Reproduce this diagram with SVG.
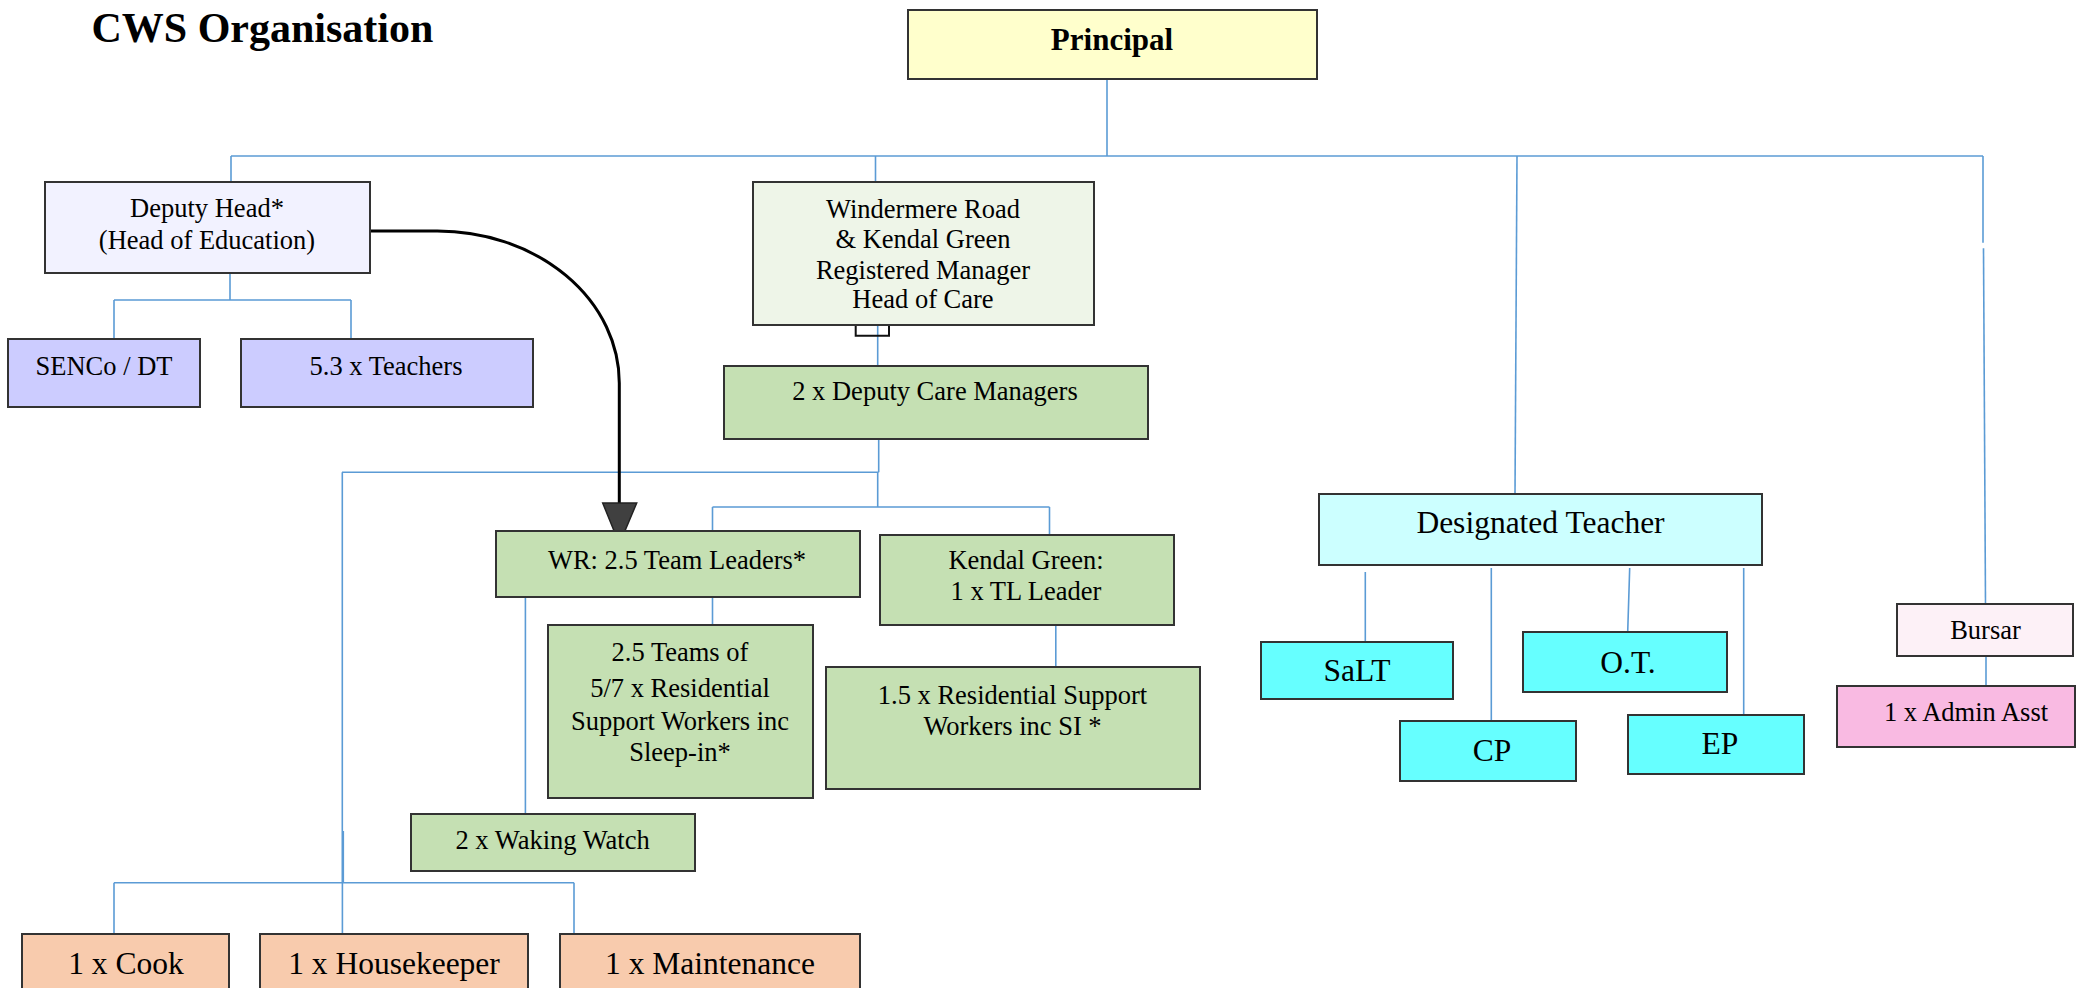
<svg xmlns="http://www.w3.org/2000/svg" width="2078" height="988" viewBox="0 0 2078 988">
<style>
  .box { stroke: #333333; stroke-width: 2; }
  .t { font-family: "Liberation Serif", "Times New Roman", serif; font-size: 26.5px; fill: #000; text-anchor: middle; }
  .tl { font-family: "Liberation Serif", "Times New Roman", serif; font-size: 31.5px; fill: #000; text-anchor: middle; }
  .conn { fill: none; stroke: #5B9BD5; stroke-width: 1.6; }
  .yel { fill: #FFFFCC; }
  .lav { fill: #F2F2FF; }
  .blu { fill: #CCCCFF; }
  .lgr { fill: #EEF5E8; }
  .grn { fill: #C5E0B3; }
  .lcy { fill: #CCFFFF; }
  .cyn { fill: #66FFFF; }
  .lpk { fill: #FDF1F7; }
  .pnk { fill: #F9BAE2; }
  .org { fill: #F8CBAD; }
</style>
<rect x="0" y="0" width="2078" height="988" fill="#FFFFFF"/>
<text x="91.5" y="42" font-family="Liberation Serif, Times New Roman, serif" font-size="42" font-weight="bold">CWS Organisation</text>

<g id="connectors">
  <path class="conn" d="M1107 79 V156"/>
  <path class="conn" d="M231 156 H1983"/>
  <path class="conn" d="M231 156 V182"/>
  <path class="conn" d="M875.5 156 V182"/>
  <path class="conn" d="M1517 156 L1515 494"/>
  <path class="conn" d="M1983 156 V242.7"/>
  <path class="conn" d="M1983.5 248.3 L1985.5 604"/>
  <path class="conn" d="M230 273 V300 M114 300 H351 M114 300 V339 M351 300 V339"/>
  <path class="conn" d="M877.7 325 V366"/>
  <path d="M855.7 325 V335.7 H889 V325" fill="none" stroke="#111" stroke-width="2"/>
  <path class="conn" d="M878.7 439 V472.3 M342 472.3 H878.7 M877.7 472.3 V507 M712.5 507 H1049.5 M712.5 507 V531 M1049.5 507 V535"/>
  <path class="conn" d="M342.3 472.3 V883 M343.3 831 V883 M114 882.7 H574 M114 882.7 V934 M342.4 882.7 V934 M574 882.7 V934"/>
  <path class="conn" d="M712.5 597 V625"/>
  <path class="conn" d="M525.4 597 V814"/>
  <path class="conn" d="M1055.8 625 V667"/>
  <path class="conn" d="M1365.3 572 V642 M1491.3 568 V721 M1629.7 568 L1627.7 632 M1743.7 568 V715"/>
  <path class="conn" d="M1986 656 V686"/>
  <path d="M370 231 H437 A182 152 0 0 1 619.3 383 V503" fill="none" stroke="#000" stroke-width="3"/>
  <polygon points="602.7,503 636.7,503 625,530.7 614,530.7" fill="#404040" stroke="#222" stroke-width="1.5"/>
</g>

<g id="principal"><rect class="box yel" x="908" y="10" width="409" height="69"/><text x="1112" y="50" font-family="Liberation Serif, Times New Roman, serif" font-size="31" font-weight="bold" text-anchor="middle">Principal</text></g>
<g id="deputy-head"><rect class="box lav" x="45" y="182" width="325" height="91"/><text class="t" x="207" y="217">Deputy Head*</text><text class="t" x="207" y="249">(Head of Education)</text></g>
<g id="senco"><rect class="box blu" x="8" y="339" width="192" height="68"/><text class="t" x="104" y="375">SENCo / DT</text></g>
<g id="teachers"><rect class="box blu" x="241" y="339" width="292" height="68"/><text class="t" x="386" y="375">5.3 x Teachers</text></g>
<g id="windermere"><rect class="box lgr" x="753" y="182" width="341" height="143"/><text class="t" x="923" y="218">Windermere Road</text><text class="t" x="923" y="248">&amp; Kendal Green</text><text class="t" x="923" y="279">Registered Manager</text><text class="t" x="923" y="308">Head of Care</text></g>
<g id="deputy-care"><rect class="box grn" x="724" y="366" width="424" height="73"/><text class="t" x="935" y="400">2 x Deputy Care Managers</text></g>
<g id="wr-team-leaders"><rect class="box grn" x="496" y="531" width="364" height="66"/><text class="t" x="677" y="568.5">WR: 2.5 Team Leaders*</text></g>
<g id="teams"><rect class="box grn" x="548" y="625" width="265" height="173"/><text class="t" x="680" y="661">2.5 Teams of</text><text class="t" x="680" y="697">5/7 x Residential</text><text class="t" x="680" y="730">Support Workers inc</text><text class="t" x="680" y="760.5">Sleep-in*</text></g>
<g id="kendal-green"><rect class="box grn" x="880" y="535" width="294" height="90"/><text class="t" x="1026" y="569">Kendal Green:</text><text class="t" x="1026" y="600">1 x TL Leader</text></g>
<g id="rsw"><rect class="box grn" x="826" y="667" width="374" height="122"/><text class="t" x="1012.5" y="704">1.5 x Residential Support</text><text class="t" x="1012.5" y="735">Workers inc SI *</text></g>
<g id="waking-watch"><rect class="box grn" x="411" y="814" width="284" height="57"/><text class="t" x="552.6" y="849">2 x Waking Watch</text></g>
<g id="cook"><rect class="box org" x="22" y="934" width="207" height="70"/><text class="tl" x="126" y="974">1 x Cook</text></g>
<g id="housekeeper"><rect class="box org" x="260" y="934" width="268" height="70"/><text class="tl" x="394" y="974">1 x Housekeeper</text></g>
<g id="maintenance"><rect class="box org" x="560" y="934" width="300" height="70"/><text class="tl" x="710" y="974">1 x Maintenance</text></g>
<g id="designated-teacher"><rect class="box lcy" x="1319" y="494" width="443" height="71"/><text class="tl" x="1540.5" y="533">Designated Teacher</text></g>
<g id="salt"><rect class="box cyn" x="1261" y="642" width="192" height="57"/><text class="tl" x="1357" y="681">SaLT</text></g>
<g id="ot"><rect class="box cyn" x="1523" y="632" width="204" height="60"/><text class="tl" x="1628" y="672.5">O.T.</text></g>
<g id="cp"><rect class="box cyn" x="1400" y="721" width="176" height="60"/><text class="tl" x="1492" y="760.5">CP</text></g>
<g id="ep"><rect class="box cyn" x="1628" y="715" width="176" height="59"/><text class="tl" x="1720" y="754">EP</text></g>
<g id="bursar"><rect class="box lpk" x="1897" y="604" width="176" height="52"/><text class="t" x="1985.5" y="639">Bursar</text></g>
<g id="admin-asst"><rect class="box pnk" x="1837" y="686" width="238" height="61"/><text class="t" x="1966" y="720.6">1 x Admin Asst</text></g>
</svg>
